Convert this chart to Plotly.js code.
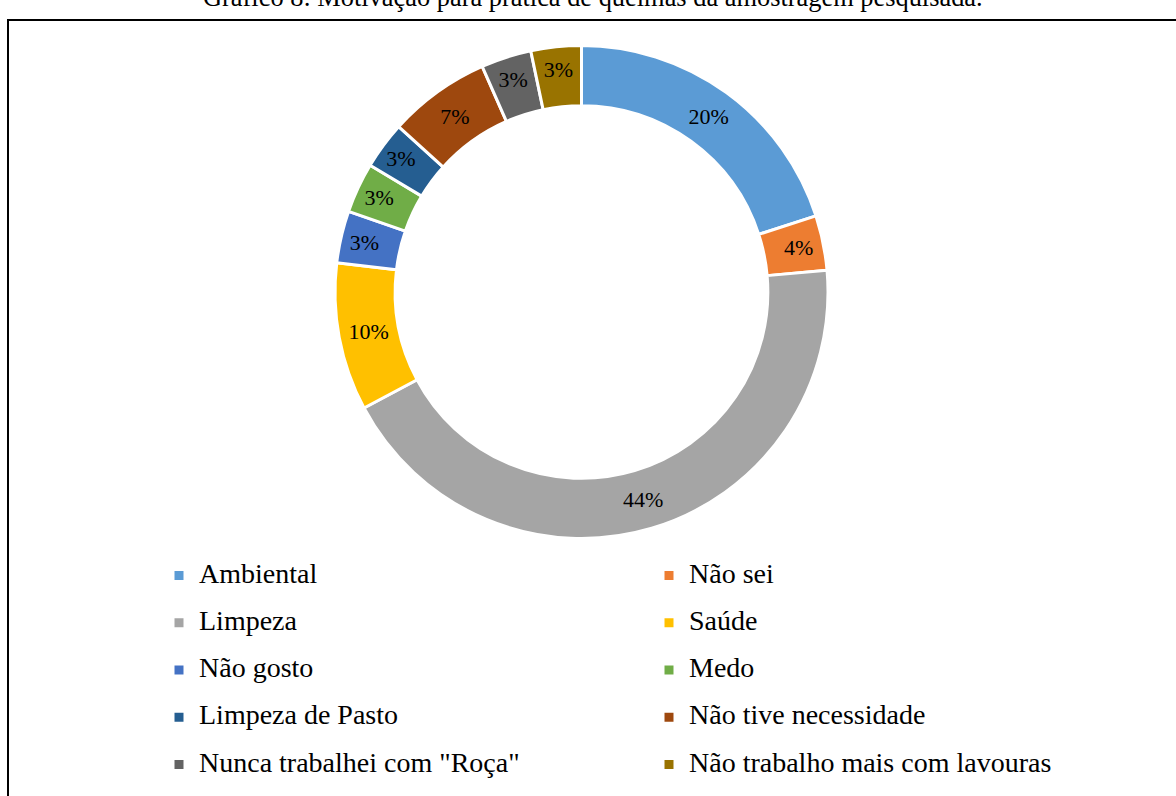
<!DOCTYPE html>
<html>
<head>
<meta charset="utf-8">
<script src="https://cdn.plot.ly/plotly-3.0.1.min.js"></script>
<style>
  html, body { margin: 0; padding: 0; background: #ffffff; }
  #chart { width: 1176px; height: 796px; }
</style>
</head>
<body>
<div id="chart"></div>
<script>
const chartTitle = 'Gráfico 8: Motivação para prática de queimas da amostragem pesquisada.';
const categories = [
  'Ambiental', 'Não sei', 'Limpeza', 'Saúde', 'Não gosto',
  'Medo', 'Limpeza de Pasto', 'Não tive necessidade',
  'Nunca trabalhei com "Roça"', 'Não trabalho mais com lavouras'
];
// shares (%); labels show them rounded
const shareValues = [20.0, 3.6, 43.6, 9.7, 3.4, 3.3, 3.1, 6.7, 3.3, 3.3];
const sliceColors = [
  '#5B9BD5', '#ED7D31', '#A5A5A5', '#FFC000', '#4472C4',
  '#70AD47', '#255E91', '#9E480E', '#636363', '#997300'
];

const W = 1176, H = 796;
const serif = '"Liberation Serif", "Times New Roman", serif';

// legend labels drawn smaller than the legend font so rows get the reference spacing
const legendLabels = categories.map(c =>
  '<span style="font-size:28px;baseline-shift:6px">' + c + '</span>');

const trace = {
  type: 'pie',
  labels: legendLabels,
  values: shareValues,
  sort: false,
  direction: 'clockwise',
  rotation: 0,
  hole: 0.756,
  marker: { colors: sliceColors, line: { color: '#ffffff', width: 3 } },
  texttemplate: '%{percent:.0%}',
  textposition: 'inside',
  insidetextorientation: 'horizontal',
  insidetextfont: { family: serif, size: 22, color: '#000000' },
  hoverinfo: 'skip',
  domain: {
    x: [335 / W, 828 / W],
    y: [(H - 538.5) / H, (H - 45.5) / H]
  }
};

const layout = {
  width: W,
  height: H,
  margin: { l: 0, r: 0, t: 0, b: 0 },
  paper_bgcolor: '#ffffff',
  plot_bgcolor: '#ffffff',
  font: { family: serif, color: '#000000' },
  uniformtext: { minsize: 22, mode: 'show' },
  showlegend: true,
  legend: {
    orientation: 'h',
    x: 159 / W,
    xanchor: 'left',
    y: (H - 547) / H,
    yanchor: 'top',
    entrywidth: 445,
    entrywidthmode: 'pixels',
    traceorder: 'normal',
    font: { family: serif, size: 34, color: '#000000' },
    bgcolor: 'rgba(0,0,0,0)',
    borderwidth: 0
  },
  annotations: [{
    text: chartTitle,
    xref: 'paper', yref: 'paper',
    x: 593 / W, xanchor: 'center',
    y: (H - 13.6) / H, yanchor: 'bottom',
    showarrow: false,
    font: { family: serif, size: 26.4, color: '#000000' }
  }],
  shapes: [{
    type: 'rect',
    xref: 'paper', yref: 'paper',
    x0: 8 / W, x1: 1.05,
    y0: -0.05, y1: (H - 20) / H,
    line: { color: '#000000', width: 2 },
    fillcolor: 'rgba(0,0,0,0)',
    layer: 'above'
  }]
};

Plotly.newPlot('chart', [trace], layout, { displayModeBar: false, staticPlot: true });
</script>
</body>
</html>
